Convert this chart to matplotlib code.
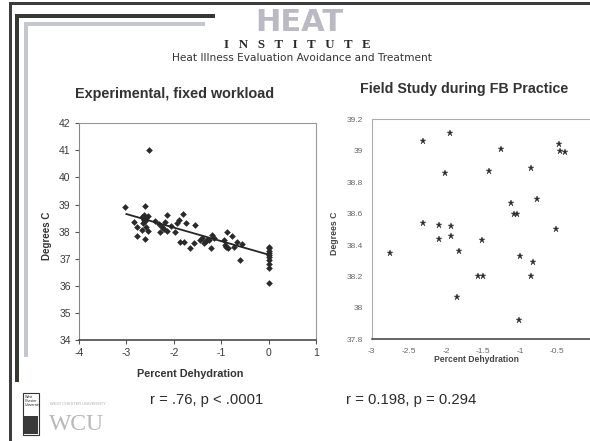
import matplotlib
matplotlib.use("Agg")
import matplotlib.pyplot as plt
from matplotlib.patches import Rectangle

plt.rcParams['font.family'] = ['Liberation Sans', 'DejaVu Sans']
plt.rcParams['axes.unicode_minus'] = False

# ---------------- data ----------------
exp_x = [-3.02, -2.60, -2.85, -2.77, -2.78, -2.60, -2.67, -2.63, -2.58, -2.55,
         -2.64, -2.58, -2.55, -2.67, -2.62, -2.60, -2.53, -2.39, -2.32, -2.15,
         -2.24, -2.29, -2.14, -2.18, -2.20, -1.94, -1.90, -1.81, -1.74, -1.97,
         -2.05, -1.86, -1.78, -1.65, -1.55, -1.58, -1.44, -1.37, -1.30, -1.40,
         -1.33, -1.19, -1.21, -1.15, -1.25, -0.88, -0.77, -0.95, -0.92, -0.85,
         -0.90, -0.67, -0.56, -0.60, -0.72, 0, 0, 0, 0, 0, 0, 0, 0, 0, 0]
exp_y = [38.90, 38.96, 38.35, 38.19, 37.84, 37.73, 38.55, 38.43, 38.49, 38.58,
         38.31, 38.17, 38.03, 38.07, 38.60, 38.40, 41.00, 38.41, 38.28, 38.62,
         38.16, 38.00, 38.04, 38.37, 38.10, 38.31, 38.43, 38.64, 38.31, 38.00,
         38.20, 37.63, 37.63, 37.39, 38.25, 37.59, 37.69, 37.59, 37.69, 37.75,
         37.65, 37.88, 37.39, 37.76, 37.70, 38.00, 37.84, 37.69, 37.51, 37.39,
         37.45, 37.63, 37.55, 36.96, 37.42, 37.45, 37.38, 37.30, 37.22, 37.12,
         37.05, 36.95, 36.80, 36.65, 36.10]
trend_x = [-3.0, 0.0]
trend_y = [38.65, 37.15]

field_x = [-2.31, -1.95, -2.01, -1.26, -1.42, -0.86, -0.48, -0.47, -0.40, -1.13,
           -1.08, -1.05, -0.78, -2.31, -2.10, -1.93, -2.10, -1.93, -1.51, -1.83,
           -2.76, -0.52, -1.00, -0.83, -1.57, -1.50, -0.86, -1.85, -1.02]
field_y = [39.06, 39.11, 38.86, 39.01, 38.87, 38.89, 39.04, 39.00, 38.99, 38.67,
           38.60, 38.60, 38.69, 38.54, 38.53, 38.52, 38.44, 38.46, 38.43, 38.36,
           38.35, 38.50, 38.33, 38.29, 38.20, 38.20, 38.20, 38.07, 37.92]

exp_xticks = [-4, -3, -2, -1, 0, 1]
exp_xlabels = ['-4', '-3', '-2', '-1', '0', '1']
exp_yticks = [34, 35, 36, 37, 38, 39, 40, 41, 42]
exp_ylabels = ['34', '35', '36', '37', '38', '39', '40', '41', '42']
field_xticks = [-3, -2.5, -2, -1.5, -1, -0.5]
field_xlabels = ['-3', '-2.5', '-2', '-1.5', '-1', '-0.5']
field_yticks = [37.8, 38.0, 38.2, 38.4, 38.6, 38.8, 39.0, 39.2]
field_ylabels = ['37.8', '38', '38.2', '38.4', '38.6', '38.8', '39', '39.2']

# ---------------- figure ----------------
W, H = 590, 441
fig = plt.figure(figsize=(W / 100, H / 100), dpi=100)
fig.patch.set_facecolor('white')


def fx(x):
    return x / W


def fy(y):
    return 1 - y / H


def rect(x0, y0, x1, y1, color, **kw):
    fig.add_artist(Rectangle((fx(x0), fy(y1)), (x1 - x0) / W, (y1 - y0) / H,
                             transform=fig.transFigure, facecolor=color, lw=0, **kw))


def text(x, y, s, **kw):
    fig.text(fx(x), fy(y), s, **kw)


# slide frame
rect(9, 2, 590, 4.5, '#3c3c3c')
rect(9, 2, 11.5, 441, '#3c3c3c')
rect(15, 14, 215, 18, '#343934')
rect(15, 14, 19, 382, '#343934')
rect(24, 22, 205, 26, '#c6c6ce')
rect(24, 22, 28, 357, '#c6c6ce')

# header
text(299, 22.5, 'HEAT', fontsize=22, fontweight='heavy', color='#bbb9c3',
     ha='center', va='center', family='DejaVu Sans')
text(297, 45, 'I   N   S   T   I   T   U   T   E', fontsize=9.3, fontweight='bold',
     color='#2a2a2a', ha='center', va='center', family='Liberation Serif')
text(302, 58, 'Heat Illness Evaluation Avoidance and Treatment', fontsize=7.6,
     color='#333333', ha='center', va='center', family='DejaVu Sans')

# titles
text(174.5, 94, 'Experimental, fixed workload', fontsize=10.4, fontweight='bold',
     color='#333333', ha='center', va='center')
text(464.5, 89.5, 'Field Study during FB Practice', fontsize=10.3, fontweight='bold',
     color='#333333', ha='center', va='center')

# ---------------- left chart ----------------
ax1 = fig.add_axes([fx(79), fy(340), 237 / W, 216.7 / H])
ax1.plot(exp_x, exp_y, linestyle='none', marker='D', markersize=3.4,
         color='#2a2a2a', markeredgewidth=0)
ax1.plot(trend_x, trend_y, color='#262626', lw=1.3)
ax1.set_xlim(-4, 1)
ax1.set_ylim(34, 42)
ax1.set_xticks(exp_xticks)
ax1.set_xticklabels(exp_xlabels)
ax1.set_yticks(exp_yticks)
ax1.set_yticklabels(exp_ylabels)
ax1.tick_params(direction='out', length=3, width=0.8, color='#555555',
                labelsize=7.5, labelcolor='#3a3a3a', pad=3)
for s in ['top', 'right']:
    ax1.spines[s].set_linestyle((0, (1, 1)))
    ax1.spines[s].set_color('#999999')
    ax1.spines[s].set_linewidth(0.8)
ax1.spines['left'].set_color('#888888')
ax1.spines['left'].set_linewidth(0.8)
ax1.spines['bottom'].set_color('#3a3a3a')
ax1.spines['bottom'].set_linewidth(1.1)

text(47, 236, 'Degrees C', fontsize=7, fontweight='bold', color='#333333',
     rotation=90, ha='center', va='center')
text(190, 374, 'Percent Dehydration', fontsize=7.8, fontweight='bold',
     color='#333333', ha='center', va='center')

# ---------------- right chart ----------------
ax2 = fig.add_axes([fx(371.7), fy(339.3), 222.8 / W, 220 / H])
ax2.plot(field_x, field_y, linestyle='none', marker='*', markersize=5.0,
         color='#2e2e2e', markeredgewidth=0.3)
ax2.set_xlim(-3, 0)
ax2.set_ylim(37.8, 39.2)
ax2.set_xticks(field_xticks)
ax2.set_xticklabels(field_xlabels)
ax2.set_yticks(field_yticks)
ax2.set_yticklabels(field_ylabels)
ax2.tick_params(direction='out', length=0, labelsize=6, labelcolor='#666666', pad=6)
for s in ['top', 'left', 'right']:
    ax2.spines[s].set_linestyle((0, (1, 1)))
    ax2.spines[s].set_color('#a8aab4')
    ax2.spines[s].set_linewidth(0.8)
ax2.spines['bottom'].set_color('#3a3a3a')
ax2.spines['bottom'].set_linewidth(1.1)

text(334.5, 233, 'Degrees C', fontsize=6.3, fontweight='bold', color='#444444',
     rotation=90, ha='center', va='center')
text(476, 359, 'Percent Dehydration', fontsize=6.2, fontweight='bold',
     color='#444444', ha='center', va='center')

# statistics
text(206.5, 400, 'r = .76, p < .0001', fontsize=10.6, color='#2a2a2a',
     ha='center', va='center')
text(411, 400, 'r = 0.198, p = 0.294', fontsize=10.7, color='#2a2a2a',
     ha='center', va='center')

# WCU logo
fig.add_artist(Rectangle((fx(23), fy(435)), 16 / W, 42 / H, transform=fig.transFigure,
                         facecolor='white', edgecolor='#333333', lw=0.8))
text(24.5, 395, 'West\nChester\nUniversity', fontsize=2.6, color='#222222',
     ha='left', va='top', linespacing=1.0)
rect(24, 416, 38, 434, '#3a3a3a')
text(78, 404, 'WEST CHESTER UNIVERSITY', fontsize=2.8, color='#aaaaaa',
     ha='center', va='center')
text(77, 424, 'WCU', fontsize=17, color='#b8b8b8', ha='center', va='center',
     family='Liberation Serif')

fig.savefig('out.png', dpi=100)
